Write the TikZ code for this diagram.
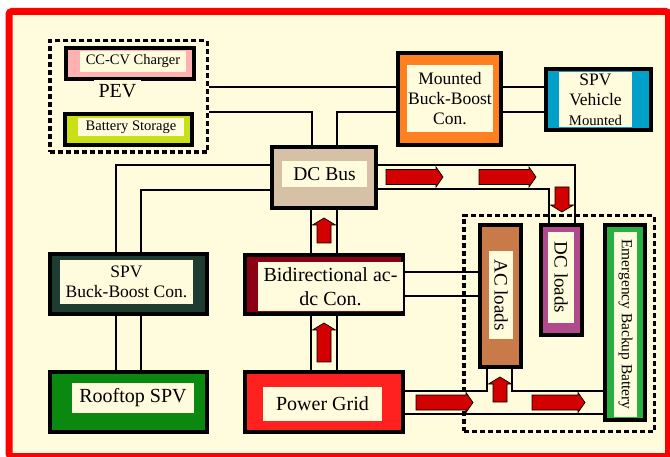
\documentclass[tikz,border=0pt]{standalone}
\usepackage{fontspec}
\setmainfont{Liberation Serif}
\usepackage{xcolor}
\usepackage{tikz}
\usetikzlibrary{shapes}
\definecolor{papercream}{RGB}{255,251,221}
\definecolor{framered}{RGB}{255,0,0}
\definecolor{chargerpink}{RGB}{255,176,176}
\definecolor{storagelime}{RGB}{200,224,20}
\definecolor{mountorange}{RGB}{255,128,32}
\definecolor{vehicleblue}{RGB}{0,160,200}
\definecolor{bustan}{RGB}{214,192,166}
\definecolor{convgreen}{RGB}{30,60,48}
\definecolor{bidirred}{RGB}{140,0,20}
\definecolor{roofgreen}{RGB}{10,136,16}
\definecolor{gridred}{RGB}{255,32,32}
\definecolor{acbrown}{RGB}{200,122,72}
\definecolor{dcpurple}{RGB}{176,74,140}
\definecolor{backupgreen}{RGB}{40,176,64}
\definecolor{flowred}{RGB}{210,0,0}

\begin{document}
\begin{tikzpicture}[x=1pt, y=-1pt,
    blk/.style={draw=black, line width=4pt, inner sep=0pt},
    lbl/.style={fill=papercream, inner sep=0pt, align=center},
    wire/.style={line width=2.3pt, black},
    grp/.style={draw=black, line width=3.5pt, dash pattern=on 5pt off 3pt},
    pics/flowarr/.style n args={3}{code={
      \draw[black, line width=0.7pt, fill=flowred, line join=miter]
        ({-#1/2},{-#2}) -- ({#1/2-7},{-#2}) -- ({#1/2-7},{-#3}) -- ({#1/2},0)
        -- ({#1/2-7},{#3}) -- ({#1/2-7},{#2}) -- ({-#1/2},{#2}) -- cycle;}}]

  \useasboundingbox (0,0) rectangle (670,457);
  \fill[white] (0,0) rectangle (670,457);
  \draw[framered, line width=7pt, fill=papercream, rounded corners=3pt] (9,11.5) rectangle (668.5,456.5);

  % groups
  \node[grp, minimum width=157.5pt, minimum height=111.5pt] (pev) at (128.5,96.5) {};
  \node[grp, minimum width=190.5pt, minimum height=215.5pt] (loads) at (559,323.5) {};

  % blocks
  \node[blk, fill=chargerpink, minimum width=128pt, minimum height=31pt] (charger) at (130,63.5) {};
  \node[lbl, minimum width=106pt, minimum height=21pt, font=\fontsize{14.5}{17}\selectfont] (chargertxt) at (133,61.5) {CC-CV Charger};
  \node[fill=papercream, inner xsep=5pt, inner ysep=4pt, font=\fontsize{20}{24}\selectfont] (pevtxt) at (117.5,91) {PEV};
  \node[blk, fill=storagelime, minimum width=127pt, minimum height=31pt] (storage) at (128.5,129.5) {};
  \node[lbl, minimum width=106pt, minimum height=18pt, font=\fontsize{14.5}{17}\selectfont] (storagetxt) at (131,127) {Battery Storage};

  \node[blk, fill=mountorange, minimum width=103pt, minimum height=92pt] (mounted) at (449.5,99) {};
  \node[lbl, minimum width=86pt, minimum height=67pt, font=\fontsize{17.5}{20}\selectfont] (mountedtxt) at (450,98.5) {Mounted\\Buck-Boost\\Con.};
  \node[blk, fill=vehicleblue, minimum width=105pt, minimum height=61pt] (vehicle) at (598.5,99.5) {};
  \node[lbl, minimum width=73pt, minimum height=55pt, font=\fontsize{17.5}{20}\selectfont] (vehicletxt) at (595.5,99.5) {SPV\\Vehicle\\{\fontsize{14.7}{20}\selectfont Mounted}};

  \node[blk, fill=bustan, minimum width=104pt, minimum height=61pt] (dcbus) at (324,177.5) {};
  \node[lbl, minimum width=85pt, minimum height=26pt, font=\fontsize{19.5}{23}\selectfont] (dcbustxt) at (324.5,174) {DC Bus};

  \node[blk, fill=convgreen, minimum width=157pt, minimum height=60pt] (spvbb) at (128.5,284) {};
  \node[lbl, minimum width=133pt, minimum height=44pt, font=\fontsize{17.5}{20}\selectfont] (spvbbtxt) at (126.5,282) {SPV\\Buck-Boost Con.};
  \node[blk, fill=bidirred, minimum width=158pt, minimum height=59pt] (bidir) at (324,284.5) {};
  \node[lbl, minimum width=145pt, minimum height=49pt, font=\fontsize{20}{24}\selectfont] (bidirtxt) at (330.5,286.5) {Bidirectional ac-\\dc Con.};

  \node[blk, fill=roofgreen, minimum width=157pt, minimum height=60pt] (rooftop) at (128.5,402) {};
  \node[lbl, minimum width=122pt, minimum height=30pt, font=\fontsize{20}{24}\selectfont] (rooftoptxt) at (133,398) {Rooftop SPV};
  \node[blk, fill=gridred, minimum width=158pt, minimum height=60pt] (grid) at (324,402) {};
  \node[lbl, minimum width=119pt, minimum height=34pt, font=\fontsize{20}{24}\selectfont] (gridtxt) at (322.5,404) {Power Grid};

  \node[blk, fill=acbrown, minimum width=41pt, minimum height=142pt] (acload) at (500.5,296) {};
  \node[lbl, rotate=-90, minimum width=88pt, minimum height=24pt, font=\fontsize{19}{22}\selectfont] (acloadtxt) at (501,295) {AC loads};
  \node[blk, fill=dcpurple, minimum width=41pt, minimum height=110pt] (dcload) at (561.5,280) {};
  \node[lbl, rotate=-90, minimum width=91pt, minimum height=26pt, font=\fontsize{19}{22}\selectfont] (dcloadtxt) at (561,277.5) {DC loads};
  \node[blk, fill=backupgreen, minimum width=40pt, minimum height=195pt] (backup) at (625,322.5) {};
  \node[lbl, rotate=-90, minimum width=185pt, minimum height=23pt, font=\fontsize{15.4}{18}\selectfont] (backuptxt) at (625.5,324.5) {Emergency Backup Battery};

  % wires
  \draw[wire] (pev.east |- 0,87) -- (mounted.west |- 0,87);
  \draw[wire] (pev.east |- 0,112) -| (dcbus.north -| 312,0);
  \draw[wire] (mounted.west |- 0,112) -| (dcbus.north -| 337,0);
  \draw[wire] (mounted.east |- 0,87) -- (vehicle.west |- 0,87);
  \draw[wire] (mounted.east |- 0,112) -- (vehicle.west |- 0,112);
  \draw[wire] (dcbus.west |- 0,165) -| (spvbb.north -| 116,0);
  \draw[wire] (dcbus.west |- 0,190) -| (spvbb.north -| 141,0);
  \draw[wire] (spvbb.south -| 116,0) -- (rooftop.north -| 116,0);
  \draw[wire] (spvbb.south -| 141,0) -- (rooftop.north -| 141,0);
  \draw[wire] (dcbus.east |- 0,165) -| (dcload.north -| 575,0);
  \draw[wire] (dcbus.east |- 0,189) -| (dcload.north -| 549,0);
  \draw[wire] (dcbus.south -| 311,0) -- (bidir.north -| 311,0);
  \draw[wire] (dcbus.south -| 337,0) -- (bidir.north -| 337,0);
  \draw[wire] (bidir.south -| 311,0) -- (grid.north -| 311,0);
  \draw[wire] (bidir.south -| 337,0) -- (grid.north -| 337,0);
  \draw[wire] (bidir.east |- 0,272) -- (acload.west |- 0,272);
  \draw[wire] (bidir.east |- 0,296) -- (acload.west |- 0,296);
  \draw[wire] (grid.east |- 0,391) -| (acload.south -| 487,0);
  \draw[wire] (acload.south -| 512,0) |- (backup.west |- 0,391);
  \draw[wire] (grid.east |- 0,414) -- (backup.west |- 0,414);

  % power flow
  \pic at (414.5,177) {flowarr={57}{7.5}{10}};
  \pic at (507.5,177) {flowarr={57}{7.5}{10}};
  \pic[rotate=-90] at (562,199.5) {flowarr={25}{7}{11.5}};
  \pic[rotate=90] at (324,230.5) {flowarr={25}{7}{11.5}};
  \pic[rotate=90] at (324,342.5) {flowarr={39}{7}{11.5}};
  \pic at (444.5,402.5) {flowarr={57}{7.5}{10}};
  \pic at (558.5,402.5) {flowarr={53}{7.5}{10}};
  \pic[rotate=90] at (500,389.5) {flowarr={25}{7}{11.5}};
\end{tikzpicture}
\end{document}
